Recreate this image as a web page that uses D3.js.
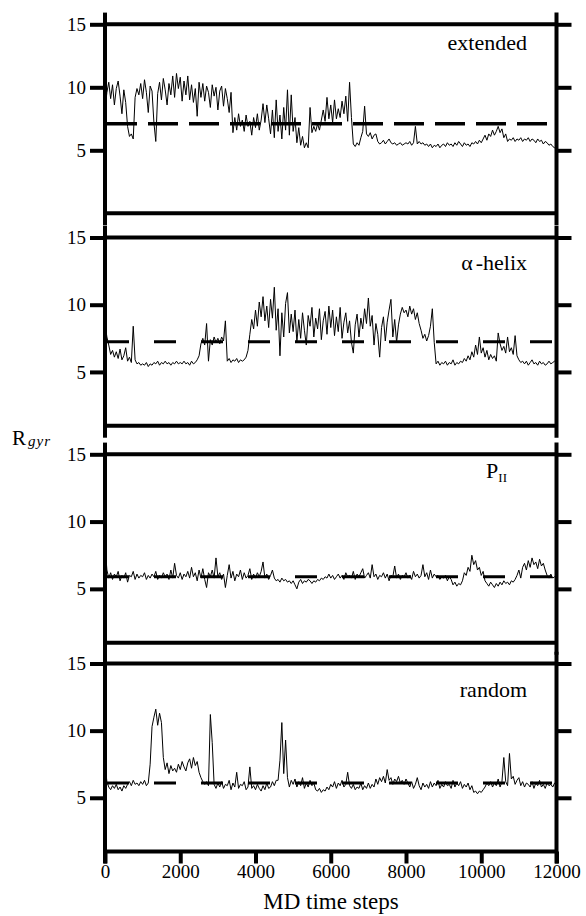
<!DOCTYPE html>
<html>
<head>
<meta charset="utf-8">
<script src="https://cdn.jsdelivr.net/npm/d3@7"></script>
<style>
body { margin: 0; background: #fff; }
svg { display: block; font-family: "Liberation Serif", "Times New Roman", serif; }
</style>
</head>
<body>
<svg id="chart" width="586" height="916"></svg>
<script>
// Rgyr traces, one value every 50 MD steps (0..12000)
var sampleStep = 50;

var extendedR = [
  8.2,9.6,10.4,9.1,10.2,8.6,9.9,10.5,9.3,7.9,9.8,8.8,6.9,6.1,6.3,5.9,9.2,9.9,9.4,10.3,
  9.1,10.6,9.6,8.0,10.1,9.7,7.2,5.7,9.5,10.4,9.0,10.7,9.8,8.6,10.3,9.4,10.9,9.2,11.1,9.9,
  10.8,8.9,10.5,9.4,10.9,9.0,10.2,8.8,9.9,7.7,10.4,9.2,10.3,8.9,10.1,9.6,8.4,10.2,9.3,10.0,
  8.2,9.7,10.1,8.5,9.9,9.1,8.0,9.6,6.4,7.6,6.6,7.9,6.9,7.4,6.5,7.8,6.9,7.3,6.2,7.6,
  6.8,7.9,6.6,7.4,8.7,7.2,8.6,7.5,6.3,8.2,6.0,9.0,6.5,7.8,5.9,8.4,6.6,9.8,6.2,9.4,
  6.5,7.6,5.6,6.8,5.4,6.1,5.2,5.6,5.2,8.4,6.4,6.9,6.5,7.1,6.6,7.4,8.2,7.3,9.2,7.5,
  8.6,7.2,9.0,7.5,8.3,7.6,8.9,7.9,9.3,7.3,10.4,7.6,5.5,5.3,5.6,5.4,6.0,6.5,8.5,6.3,
  6.1,6.4,5.9,6.2,6.3,5.7,5.5,5.6,5.8,5.5,5.7,5.9,5.6,5.5,5.6,5.4,5.5,5.6,5.4,5.5,
  5.6,5.5,5.7,5.4,5.6,6.9,5.5,5.7,5.5,5.6,5.4,5.5,5.3,5.5,5.2,5.4,5.3,5.5,5.2,5.4,
  5.5,5.3,5.6,5.4,5.5,5.3,5.6,5.4,5.7,5.5,5.3,5.6,5.4,5.5,5.3,5.6,5.5,5.7,5.5,5.8,
  5.6,5.9,6.2,5.8,6.3,6.1,6.6,6.2,6.5,6.9,6.4,6.7,6.0,6.3,5.7,5.9,5.8,6.0,5.7,5.9,
  5.8,6.0,5.7,5.9,5.8,6.0,5.7,5.9,5.8,5.6,5.9,5.7,5.8,5.5,5.7,5.6,5.4,5.5,5.3,5.2,
  5.1
];

var helixR = [
  8.6,7.6,7.0,6.3,6.6,6.1,6.5,6.0,6.7,5.9,6.2,6.8,5.8,6.1,5.7,8.4,5.9,5.6,5.7,5.5,
  5.6,5.5,5.7,5.4,5.6,5.5,5.7,5.6,5.8,5.5,5.7,5.6,5.8,5.6,5.7,5.5,5.7,5.6,5.8,5.6,
  5.7,5.6,5.8,5.6,5.7,5.5,5.8,5.6,5.7,5.9,6.2,7.1,7.5,7.0,8.6,5.8,7.4,7.0,7.6,7.2,
  7.5,7.1,7.6,7.3,8.8,5.8,6.0,5.7,5.9,5.8,6.0,5.7,5.9,5.8,5.9,6.1,6.6,7.8,8.9,8.2,
  9.6,8.4,10.2,9.1,10.6,8.8,9.9,8.3,10.4,9.0,11.3,8.1,9.7,6.2,9.4,7.6,10.1,10.9,7.9,9.3,
  8.0,9.6,7.2,8.9,7.5,9.4,8.1,7.0,9.2,8.4,9.8,7.6,9.0,8.2,9.7,7.4,8.8,9.5,7.8,9.9,
  8.3,9.6,7.7,9.1,8.0,9.8,7.5,8.7,9.4,7.9,8.8,7.2,6.4,8.5,9.3,7.6,9.0,8.2,9.7,8.6,
  10.5,8.4,9.2,7.0,8.6,7.8,6.1,8.3,9.1,7.3,8.7,9.6,10.4,7.6,8.9,7.2,8.5,9.3,9.8,9.4,
  9.6,9.1,9.9,9.3,9.7,8.9,9.4,8.6,8.1,7.5,7.8,7.3,7.7,8.4,9.7,7.2,5.6,5.8,5.5,5.7,
  5.6,5.8,5.5,5.7,5.6,5.9,5.5,5.7,5.6,5.8,5.7,6.0,5.8,6.2,5.9,6.5,6.1,7.0,6.3,7.6,
  6.4,6.8,6.1,6.6,5.9,6.3,6.0,6.2,5.8,7.9,7.1,6.6,6.9,6.4,7.6,6.5,6.8,6.3,7.7,6.2,
  5.9,5.7,5.8,5.6,5.8,5.5,5.7,5.9,5.6,5.7,5.5,5.8,5.6,5.7,5.5,5.6,5.8,5.6,5.7,5.8,
  5.7
];

var ppiiR = [
  8.3,6.4,5.8,6.2,5.7,6.1,5.9,6.3,5.6,6.0,5.8,6.2,5.5,6.0,5.9,6.3,5.7,6.1,5.8,6.0,
  5.9,6.2,5.7,6.0,5.8,6.1,5.9,6.3,5.7,6.0,5.8,6.2,5.9,6.1,5.7,6.4,5.8,6.9,6.0,5.8,
  6.2,5.7,6.1,5.9,6.3,5.8,6.6,5.9,6.2,5.6,6.4,5.8,6.5,5.7,5.1,6.2,5.9,6.4,5.8,7.3,
  5.9,6.2,5.7,6.1,5.1,6.0,6.8,5.8,6.3,5.6,6.1,5.9,6.4,5.7,6.2,5.8,6.0,6.5,5.7,6.1,
  5.8,6.2,5.9,6.3,7.0,5.8,6.1,5.7,6.0,6.4,5.8,5.6,5.7,5.5,5.8,5.6,5.7,5.5,5.6,5.4,
  5.6,5.3,5.0,5.5,5.7,5.4,5.6,5.5,5.7,5.6,5.4,5.6,5.5,5.7,5.6,5.8,5.7,5.9,5.8,6.1,
  5.8,6.0,5.7,5.9,6.1,5.8,6.0,5.7,6.2,5.9,6.0,5.8,6.3,5.7,6.1,5.9,6.2,6.5,5.8,6.0,
  6.2,5.8,6.8,5.9,6.1,5.7,6.0,5.9,6.2,5.8,6.1,5.6,6.0,5.9,6.7,5.8,6.1,5.7,6.0,5.9,
  6.2,5.8,6.0,5.7,6.3,5.9,6.1,5.8,6.0,6.8,5.9,6.2,5.7,6.4,5.8,6.1,5.9,6.0,5.7,5.9,
  5.8,6.0,5.6,5.9,5.7,5.3,5.5,5.2,5.4,5.3,5.6,6.2,6.0,6.6,6.3,7.5,6.8,7.1,6.4,6.6,
  6.0,6.3,5.6,5.4,5.2,5.5,5.3,5.1,5.4,5.2,5.5,5.3,5.6,5.4,5.5,5.3,5.6,5.5,5.7,6.0,
  6.4,5.8,6.6,6.9,6.4,7.1,6.6,7.3,6.8,7.0,6.5,7.2,6.7,6.9,6.4,6.0,5.8,6.1,5.8,5.9,
  5.9
];

var randomR = [
  7.5,6.2,5.8,5.6,5.9,5.7,6.0,5.6,5.8,5.5,5.9,5.7,6.0,6.2,5.9,6.3,6.0,6.1,5.9,6.2,
  6.0,6.3,5.9,6.1,7.5,10.3,11.0,11.6,10.4,11.3,10.6,8.0,7.1,7.6,6.8,7.4,7.0,7.2,6.9,7.5,
  7.1,7.7,7.3,7.0,7.6,7.9,7.2,8.0,7.4,7.7,6.9,6.5,6.2,6.0,6.2,5.9,11.2,9.1,6.0,5.7,
  6.1,5.8,6.2,5.7,6.0,5.9,6.3,5.6,6.1,5.8,6.9,5.7,6.0,5.9,6.2,5.6,5.8,7.3,5.7,5.9,
  5.6,6.0,5.7,5.5,5.9,5.6,6.1,5.7,5.8,6.2,5.9,6.3,6.3,7.8,10.6,6.8,9.3,6.5,5.8,6.3,
  6.0,6.4,5.8,6.2,5.9,6.5,5.7,6.1,5.8,6.3,5.9,6.1,5.6,5.5,5.7,5.4,5.6,5.5,5.8,5.6,
  6.0,5.8,6.2,5.7,6.1,5.9,6.3,5.8,6.0,6.9,5.9,5.7,6.0,5.6,5.8,5.7,6.1,5.6,5.9,5.7,
  6.1,5.7,6.0,5.8,6.4,6.0,6.5,6.2,6.6,6.1,7.1,6.3,6.5,6.0,6.4,6.2,6.6,6.1,6.3,6.0,
  6.4,6.1,5.8,6.2,5.7,6.0,6.5,5.9,5.6,6.1,5.8,6.0,5.7,6.2,5.8,6.1,5.9,6.3,5.7,6.0,
  5.8,6.2,5.9,6.0,5.7,6.3,5.8,6.1,5.9,6.2,5.7,6.0,5.8,6.1,5.6,5.9,5.4,5.5,5.3,5.5,
  5.4,5.6,5.8,6.1,5.9,6.2,5.8,6.1,5.9,6.4,5.8,6.2,8.0,6.2,5.9,8.3,6.4,6.6,6.0,6.3,
  6.5,5.9,6.2,5.8,6.1,6.0,5.8,6.2,5.7,6.1,5.9,6.3,5.8,6.0,5.7,6.1,5.9,6.0,5.8,6.1,
  6.0
];

var meanR = [7.1, 7.25, 5.9, 6.1];
var yTicks = [5, 10, 15];
var xTicks = [0, 2000, 4000, 6000, 8000, 10000, 12000];

var series = [extendedR, helixR, ppiiR, randomR];

// panel boxes (pixels) and the bottom of each y range
var panels = [
  {top: 24.3,  bottom: 213.3, min: 0, dash: "30,11", dashW: 3.5, labelY: 50},
  {top: 237.5, bottom: 425.7, min: 1, dash: "22,25", dashW: 3,   labelY: 270},
  {top: 454.3, bottom: 642.7, min: 1, dash: "22,25", dashW: 3,   labelY: 478},
  {top: 663.5, bottom: 851.5, min: 1, dash: "22,25", dashW: 3,   labelY: 697}
];

var svg = d3.select("#chart");
var x = d3.scaleLinear().domain([0, 12000]).range([105, 556.5]);

function styleAxis(g) {
  g.select(".domain").remove();
  g.selectAll(".tick line").attr("stroke", "#000").attr("stroke-width", 4);
  g.selectAll(".tick text").attr("fill", "#000")
    .style("font-family", "'Liberation Serif', serif").style("font-size", "19px");
}

panels.forEach(function(p, i) {
  var y = d3.scaleLinear().domain([p.min, 15]).range([p.bottom, p.top]);
  var g = svg.append("g");

  var line = d3.line()
    .x(function(d, j) { return x(j * sampleStep); })
    .y(function(d) { return y(d); });

  g.append("path")
    .datum(series[i])
    .attr("d", line)
    .attr("fill", "none")
    .attr("stroke", "#000")
    .attr("stroke-width", 1)
    .attr("stroke-linejoin", "round");

  // average, dashed
  g.append("line")
    .attr("x1", x(0) + 2).attr("x2", x(12000) - 2)
    .attr("y1", y(meanR[i])).attr("y2", y(meanR[i]))
    .attr("stroke", "#000")
    .attr("stroke-width", p.dashW)
    .attr("stroke-dasharray", p.dash);

  var frame = g.append("g").attr("stroke", "#000").attr("stroke-width", 4);
  frame.append("line").attr("x1", x(0)).attr("x2", x(12000)).attr("y1", y(15)).attr("y2", y(15));
  frame.append("line").attr("x1", x(0)).attr("x2", x(12000)).attr("y1", y(p.min)).attr("y2", y(p.min));
  frame.append("line").attr("x1", x(0)).attr("x2", x(0)).attr("y1", p.top - 11.7).attr("y2", p.bottom + 12);
  frame.append("line").attr("x1", x(12000)).attr("x2", x(12000)).attr("y1", p.top - 11.7).attr("y2", p.bottom + 12);

  g.append("g")
    .attr("transform", "translate(" + x(0) + ",0)")
    .call(d3.axisLeft(y).tickValues(yTicks).tickSize(15).tickPadding(4))
    .call(styleAxis);

  g.append("g")
    .attr("transform", "translate(" + x(12000) + ",0)")
    .call(d3.axisRight(y).tickValues(yTicks).tickSize(15).tickFormat(""))
    .call(styleAxis);
});

// panel names
var lab = svg.append("g")
  .attr("text-anchor", "end")
  .style("font-size", "22px")
  .attr("fill", "#000");
lab.append("text").attr("x", 527).attr("y", panels[0].labelY).text("extended");
var hx = lab.append("text").attr("x", 527).attr("y", panels[1].labelY);
hx.append("tspan").text("α");
hx.append("tspan").attr("dx", 3).text("-helix");
var pp = lab.append("text").attr("x", 507).attr("y", panels[2].labelY);
pp.append("tspan").text("P");
pp.append("tspan").attr("dy", 4).style("font-size", "13px").text("II");
lab.append("text").attr("x", 527).attr("y", panels[3].labelY).text("random");

// x axis under the last panel
var last = panels[3];
svg.append("g")
  .attr("transform", "translate(0," + last.bottom + ")")
  .call(d3.axisBottom(x).tickValues(xTicks).tickSize(12).tickFormat(d3.format("d")))
  .call(styleAxis)
  .call(function(g) {
    g.selectAll(".tick text").attr("y", 26).attr("dy", 0);
  });

svg.append("text")
  .attr("x", 331).attr("y", 909)
  .attr("text-anchor", "middle")
  .style("font-size", "23px")
  .text("MD time steps");

// y label
var yl = svg.append("text").attr("x", 12).attr("y", 445);
yl.append("tspan").style("font-size", "21px").text("R");
yl.append("tspan").attr("dx", 2).attr("dy", 1).style("font-size", "15px").style("font-style", "italic")
  .attr("letter-spacing", 1).text("gyr");
</script>
</body>
</html>
